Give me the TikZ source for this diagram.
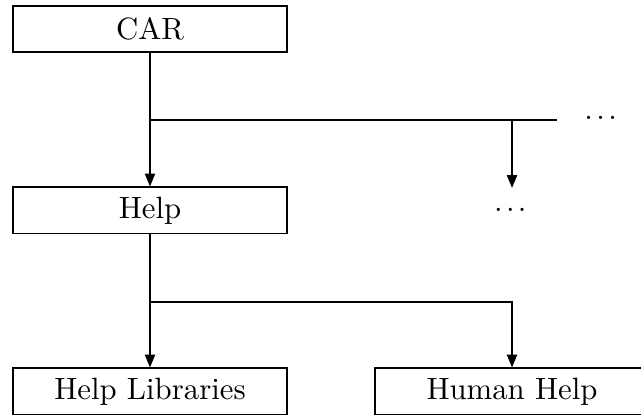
\documentclass[tikz,border=0pt]{standalone}
\usetikzlibrary{arrows.meta}

\newcommand\threedots{.\kern1.1pt.\kern1.1pt.\kern1.1pt}

\begin{document}
\begin{tikzpicture}[x=0.325pt, y=-0.325pt, line width=0.6pt,
	box/.style={draw, rectangle, minimum width=88.8pt, minimum height=15pt, inner sep=0pt},
	dots/.style={inner sep=0pt},
	>={Triangle[length=4.2pt, width=3.3pt]}]
\useasboundingbox (0,0) rectangle (641,419);
\node[box] (car) at (150,29) {CAR};
\node[box] (help) at (150,210.5) {Help};
\node[box] (hlib) at (150,391.5) {Help Libraries};
\node[box] (human) at (512,391.5) {Human Help};
\node[dots, anchor=base west, inner xsep=8.6pt] (dotsA) at (557,120) {\threedots};
\node[dots, anchor=north, text height=7.3pt] (dotsB) at (512,188) {\threedots};
\coordinate (forkA) at (150,120);
\coordinate (forkB) at (150,302);
% first level
\draw[->] (car.south) -- (help.north);
\draw (forkA) -- (dotsA.base west);
\draw[->] (forkA -| dotsB.north) -- (dotsB.north);
% second level
\draw[->] (help.south) -- (hlib.north);
\draw[->] (forkB) -| (human.north);
\end{tikzpicture}
\end{document}
